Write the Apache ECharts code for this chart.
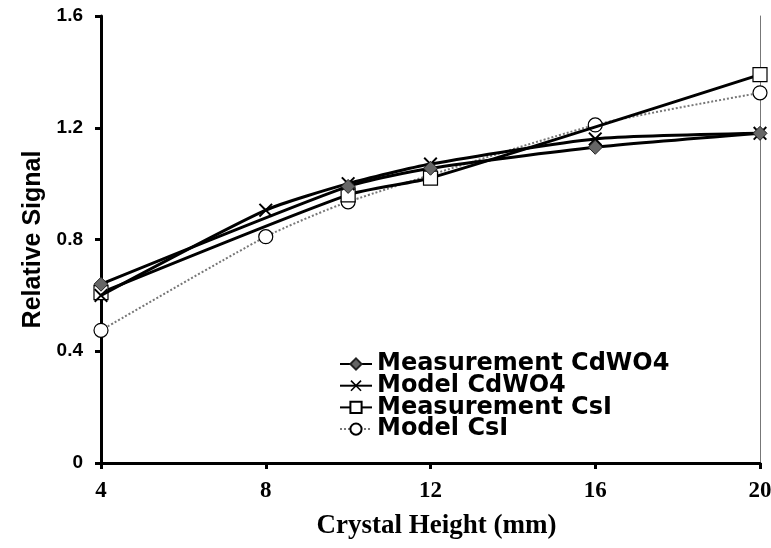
<!DOCTYPE html>
<html>
<head>
<meta charset="utf-8">
<script src="https://cdn.jsdelivr.net/npm/echarts@6/dist/echarts.min.js"></script>
<style>html,body{margin:0;padding:0;background:#fff}#c{width:771px;height:548px}</style>
</head>
<body>
<div id="c"></div>
<script>
var measCdX = [4, 10, 12, 16, 20];
var measCdY = [0.64, 0.99, 1.055, 1.13, 1.18];
var modelCdX = [4, 8, 10, 12, 16, 20];
var modelCdY = [0.60, 0.905, 1.0, 1.07, 1.16, 1.18];
var measCsX = [4, 10, 12, 20];
var measCsY = [0.61, 0.96, 1.02, 1.39];
var modelCsX = [4, 8, 10, 16, 20];
var modelCsY = [0.475, 0.81, 0.935, 1.21, 1.325];
var seriesNames = ['Measurement CdWO4', 'Model CdWO4', 'Measurement CsI', 'Model CsI'];
var xTicks = [4, 8, 12, 16, 20];
var yTicks = [0, 0.4, 0.8, 1.2, 1.6];

function pairs(xs, ys){ return xs.map(function(x,i){return [x, ys[i]];}); }
var crossPath = 'path://M0,1L1,0L5,4L9,0L10,1L6,5L10,9L9,10L5,6L1,10L0,9L4,5Z';

var chart = echarts.init(document.getElementById('c'));
chart.setOption({
  animation: false,
  backgroundColor: '#fff',
  grid: {left: 101, right: 11, top: 16, bottom: 85, containLabel: false, outerBoundsMode: 'none'},
  legend: {
    orient: 'vertical', left: 334, top: 347, itemGap: -2.3,
    itemWidth: 32, itemHeight: 14,
    textStyle: {fontFamily: 'DejaVu Sans', fontWeight: 'bold', fontSize: 24, lineHeight: 20, color: '#000'},
    data: seriesNames
  },
  xAxis: {
    type: 'value', min: 4, max: 20, interval: 4,
    name: 'Crystal Height (mm)', nameLocation: 'middle', nameGap: 50,
    nameTextStyle: {fontFamily: 'Liberation Serif, Times New Roman', fontWeight: 'bold', fontSize: 27, color: '#000', padding: [0, 0, 0, 12]},
    axisLine: {lineStyle: {color: '#000', width: 3}},
    axisTick: {inside: false, length: 6, lineStyle: {color: '#000', width: 3}},
    axisLabel: {margin: 17, fontFamily: 'Liberation Serif, Times New Roman', fontWeight: 'bold', fontSize: 23, color: '#000',
      formatter: function(v){ return xTicks.indexOf(v) >= 0 ? String(v) : ''; }},
    splitLine: {show: false}
  },
  yAxis: [{
    type: 'value', min: 0, max: 1.6, interval: 0.4,
    name: 'Relative Signal', nameLocation: 'middle', nameGap: 52, nameRotate: 90,
    nameTextStyle: {fontFamily: 'Liberation Sans, Arial', fontWeight: 'bold', fontSize: 25, color: '#000'},
    axisLine: {show: true, lineStyle: {color: '#000', width: 3}},
    axisTick: {show: true, length: 6, lineStyle: {color: '#000', width: 3}},
    axisLabel: {margin: 18, fontFamily: 'Liberation Sans, Arial', fontWeight: 'bold', fontSize: 19, color: '#000',
      formatter: function(v){ var r = Math.round(v*10)/10; return yTicks.indexOf(r) >= 0 ? String(r) : ''; }},
    splitLine: {show: false}
  }, {
    type: 'value', min: 0, max: 1.6, interval: 0.4, position: 'right',
    axisLine: {show: true, lineStyle: {color: '#777', width: 1}},
    axisTick: {show: false}, axisLabel: {show: false}, splitLine: {show: false}
  }],
  series: [
    {name: seriesNames[0], type: 'line', data: pairs(measCdX, measCdY), smooth: 0.2,
     symbol: 'diamond', symbolSize: 14,
     lineStyle: {color: '#000', width: 3}, itemStyle: {color: '#666', borderColor: '#222', borderWidth: 1}, z: 4},
    {name: seriesNames[1], type: 'line', data: pairs(modelCdX, modelCdY), smooth: 0.2,
     symbol: crossPath, symbolSize: 14,
     lineStyle: {color: '#000', width: 3}, itemStyle: {color: '#000'}, z: 3},
    {name: seriesNames[2], type: 'line', data: pairs(measCsX, measCsY), smooth: 0.2,
     symbol: 'rect', symbolSize: 14,
     lineStyle: {color: '#000', width: 3}, itemStyle: {color: '#fff', borderColor: '#000', borderWidth: 1.2}, z: 2},
    {name: seriesNames[3], type: 'line', data: pairs(modelCsX, modelCsY), smooth: 0.2,
     symbol: 'circle', symbolSize: 14,
     lineStyle: {color: '#777', width: 2, type: 'dotted'}, itemStyle: {color: '#fff', borderColor: '#000', borderWidth: 1.2}, z: 1}
  ]
});
</script>
</body>
</html>
